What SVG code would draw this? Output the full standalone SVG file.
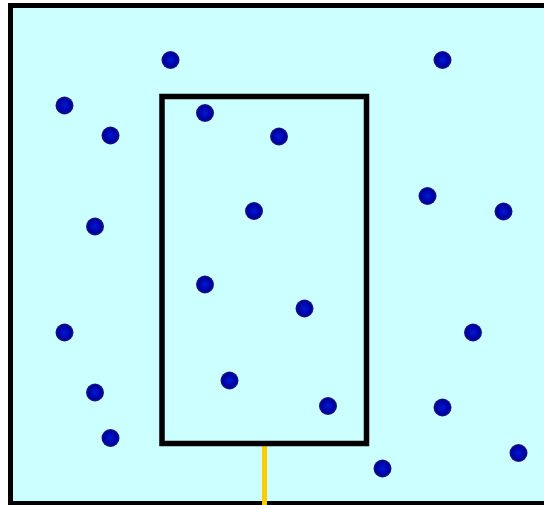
<svg xmlns="http://www.w3.org/2000/svg" width="544" height="505" viewBox="0 0 544 505">
<defs>
<radialGradient id="dotg" cx="50%" cy="50%" r="50%">
<stop offset="0" stop-color="#0018d8"/>
<stop offset="0.75" stop-color="#00009c"/>
<stop offset="1" stop-color="#1a1a80"/>
</radialGradient>
</defs>
<style>
.dot{fill:url(#dotg)}
.box{fill:none;stroke:#000;stroke-width:5.5}
</style>
<rect x="10.5" y="5.5" width="560" height="498" fill="#ccffff" stroke="#000" stroke-width="5"/>
<g id="connectors">
<line x1="264.5" y1="446" x2="264.5" y2="505" stroke="#ffcc00" stroke-width="5"/>
</g>
<g id="region">
<rect class="box" x="162" y="96.5" width="204.5" height="347"/>
</g>
<g id="dots">
<circle class="dot" cx="170.5" cy="60" r="9"/>
<circle class="dot" cx="442.5" cy="60" r="9"/>
<circle class="dot" cx="64.5" cy="105.5" r="9"/>
<circle class="dot" cx="110.5" cy="135.5" r="9"/>
<circle class="dot" cx="205" cy="113" r="9"/>
<circle class="dot" cx="279" cy="136.5" r="9"/>
<circle class="dot" cx="427.5" cy="196" r="9"/>
<circle class="dot" cx="503.5" cy="211.5" r="9"/>
<circle class="dot" cx="254" cy="211" r="9"/>
<circle class="dot" cx="95" cy="226.5" r="9"/>
<circle class="dot" cx="205" cy="284.5" r="9"/>
<circle class="dot" cx="304.5" cy="308.5" r="9"/>
<circle class="dot" cx="64.5" cy="332.5" r="9"/>
<circle class="dot" cx="473" cy="332.5" r="9"/>
<circle class="dot" cx="95" cy="392.5" r="9"/>
<circle class="dot" cx="229.5" cy="380.5" r="9"/>
<circle class="dot" cx="328" cy="406" r="9"/>
<circle class="dot" cx="442.5" cy="407.5" r="9"/>
<circle class="dot" cx="110.5" cy="438" r="9"/>
<circle class="dot" cx="382.5" cy="468.5" r="9"/>
<circle class="dot" cx="518.5" cy="453" r="9"/>
</g>
</svg>
